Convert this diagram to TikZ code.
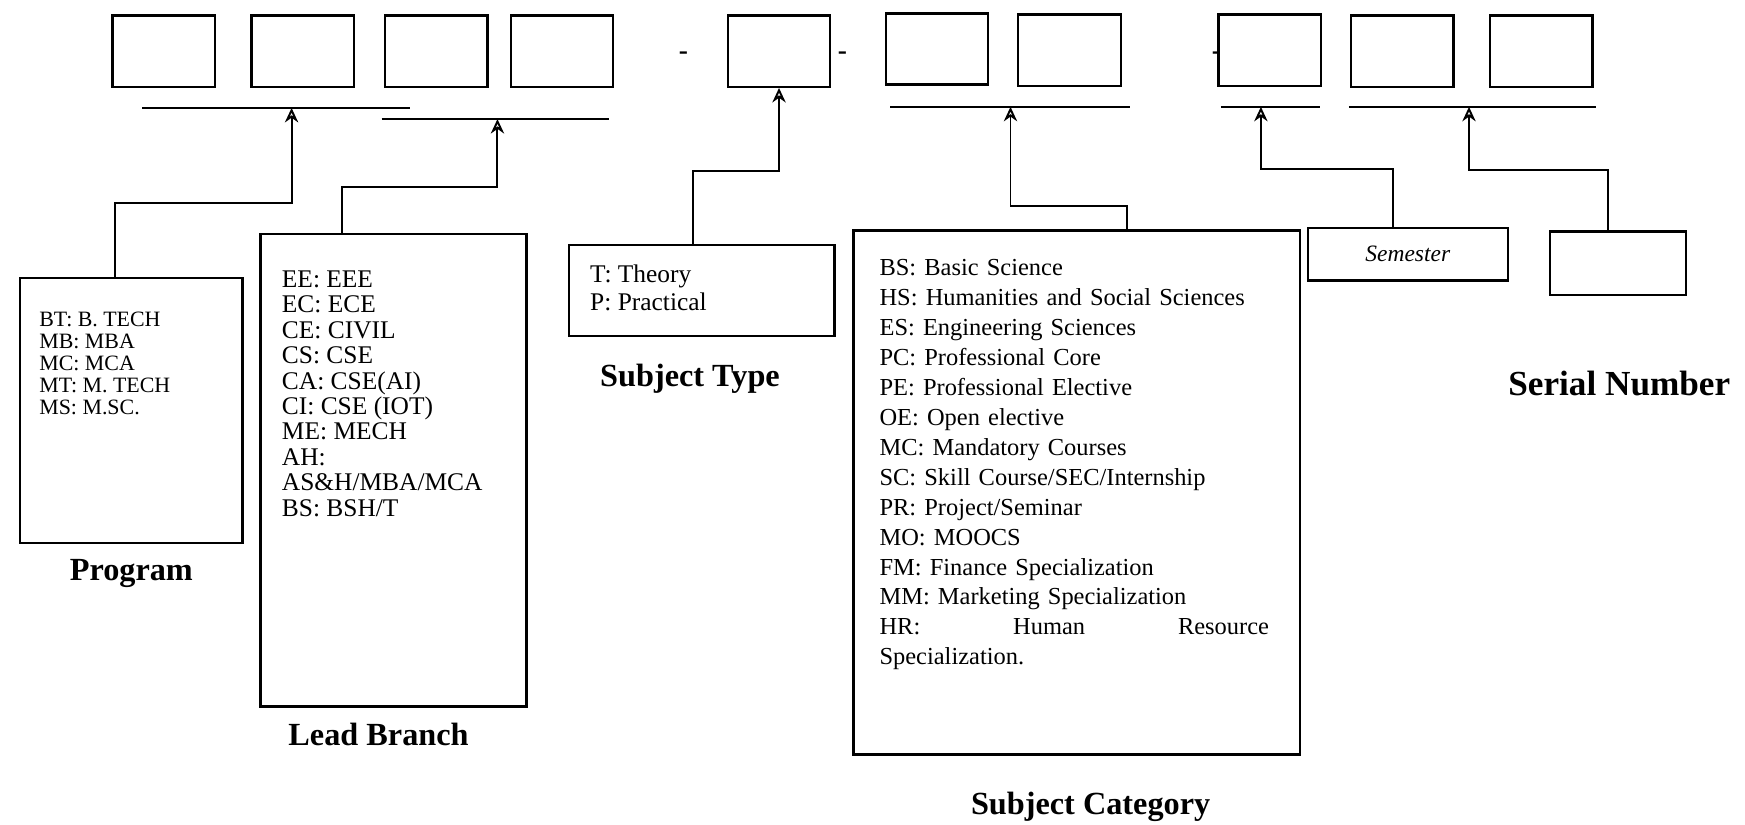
\documentclass[tikz,border=0pt]{standalone}
\usepackage{fontspec}
\setmainfont{Liberation Serif}
\usetikzlibrary{arrows.meta,positioning,calc}

\begin{document}
\begin{tikzpicture}[x=0.02cm,y=-0.02cm,
    cell/.style={draw,line width=1.2pt,minimum width=1.84cm,minimum height=1.28cm},
    frame/.style={draw,line width=1.2pt,inner sep=0pt},
    list/.style={anchor=north west,align=left,inner sep=0pt},
    bar/.style={line width=1.3pt},
    arr/.style={-{Stealth[open,length=2.6mm,width=2.4mm]},line width=1pt},
    title/.style={font=\fontsize{16.5}{20}\selectfont\bfseries},
    sep/.style={font=\fontsize{14}{14}\selectfont\bfseries,inner sep=0pt}
  ]
  \useasboundingbox (0,0) rectangle (1568,741);

  % code cells
  \node[cell] (c1) at (147,46) {};
  \node[cell] (c2) at (272,46) {};
  \node[cell] (c3) at (392,46) {};
  \node[cell] (c4) at (505,46) {};
  \node[sep] (m1) at (614,50) {-};
  \node[cell] (c5) at (700,46) {};
  \node[sep] (m2) at (757,50) {-};
  \node[cell] (c6) at (842,44) {};
  \node[cell] (c7) at (961,45) {};
  \node[sep] (m3) at (1093,50) {-};
  \node[cell] (c8) at (1141,45) {};
  \node[cell] (c9) at (1260,46) {};
  \node[cell] (c10) at (1385,46) {};

  % brackets under the cells
  \draw[bar] (128,97) -- (368,97);
  \coordinate (b1) at (262,97);
  \draw[bar] (343,107) -- (547,107);
  \coordinate (b2) at (447,107);
  \draw[bar] (800,96) -- (1015,96);
  \coordinate (b3) at (908,96);
  \draw[bar] (1097,96) -- (1186,96);
  \coordinate (b4) at (1133,96);
  \draw[bar] (1212,96) -- (1434,96);
  \coordinate (b5) at (1320,96);

  % legend boxes
  \node[frame,minimum width=4cm,minimum height=4.76cm] (prog) at (118,369) {};
  \node[list,font=\fontsize{11.2}{11.2}\selectfont] (progtxt) at (35,280)
    {BT: B. TECH\\MB: MBA\\MC: MCA\\MT: M. TECH\\MS: M.SC.};
  \node[title] (proglbl) at (118,515) {Program};

  \node[frame,minimum width=4.78cm,minimum height=8.5cm] (lead) at (353.5,422.5) {};
  \node[list,font=\fontsize{13}{13}\selectfont] (leadtxt) at (253,243)
    {EE: EEE\\EC: ECE\\CE: CIVIL\\CS: CSE\\CA: CSE(AI)\\CI: CSE (IOT)\\ME: MECH\\AH:\\AS\&H/MBA/MCA\\BS: BSH/T};
  \node[title,anchor=west] (leadlbl) at (253,660) {Lead Branch};

  \node[frame,minimum width=4.78cm,minimum height=1.64cm] (type) at (630.5,261) {};
  \node[list,font=\fontsize{13}{14.2}\selectfont] (typetxt) at (530,237.5)
    {T: Theory\\P: Practical};
  \node[title] (typelbl) at (620,340) {Subject Type};

  \node[frame,minimum width=8.02cm,minimum height=9.42cm] (cat) at (967.5,442.5) {};
  \node[list,text width=7cm,font=\fontsize{12.5}{15.3}\selectfont] (cattxt) at (790,233)
    {BS: Basic Science\\
     HS: Humanities and Social Sciences\\
     ES: Engineering Sciences\\
     PC: Professional Core\\
     PE: Professional Elective\\
     OE: Open elective\\
     MC: Mandatory Courses\\
     SC: Skill Course/SEC/Internship\\
     PR: Project/Seminar\\
     MO: MOOCS\\
     FM: Finance Specialization\\
     MM: Marketing Specialization\\
     HR:\hfill Human\hfill Resource\\
     Specialization.};
  \node[title] (catlbl) at (980,725) {Subject Category};

  \node[frame,minimum width=3.6cm,minimum height=0.94cm,
        font=\fontsize{12}{14}\selectfont\itshape] (sem) at (1265,228.5) {Semester};

  \node[frame,minimum width=2.44cm,minimum height=1.14cm] (ser) at (1454,236.5) {};
  \node[title,font=\fontsize{18}{20}\selectfont\bfseries] (serlbl) at (1455,345) {Serial Number};

  % connectors
  \draw[arr] ($(prog.north)+(-15,0)$) |- ($(b1)+(0,85)$) -- (b1);
  \draw[arr] ($(lead.north)+(-46,0)$) |- ($(b2)+(0,61)$) -- (b2);
  \draw[arr] ($(type.north)+(-8,0)$) |- ($(c5.south)+(0,75)$) -- (c5.south);
  \draw[arr] ($(cat.north)+(45,0)$) |- ($(b3)+(0,89)$) -- (b3);
  \draw[arr] ($(sem.north)+(-13,0)$) |- ($(b4)+(0,56)$) -- (b4);
  \draw[arr] ($(ser.north)+(-9,0)$) |- ($(b5)+(0,57)$) -- (b5);
\end{tikzpicture}
\end{document}
